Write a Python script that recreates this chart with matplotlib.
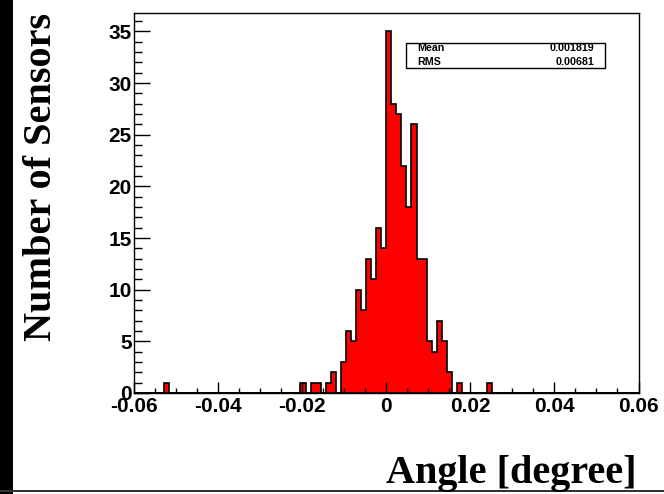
import matplotlib
matplotlib.use("Agg")
import matplotlib.pyplot as plt
import numpy as np
from matplotlib.patches import Rectangle
from matplotlib.ticker import MultipleLocator

# histogram binning: 100 bins from -0.06 to 0.06
x_min, x_max, n_bins = -0.06, 0.06, 100

# entries per bin (left to right)
counts = [
    0, 0, 0, 0, 0, 0, 1, 0, 0, 0,
    0, 0, 0, 0, 0, 0, 0, 0, 0, 0,
    0, 0, 0, 0, 0, 0, 0, 0, 0, 0,
    0, 0, 0, 1, 0, 1, 1, 0, 1, 2,
    0, 3, 6, 5, 10, 8, 13, 11, 16, 14,
    35, 28, 27, 22, 18, 26, 13, 13, 5, 4,
    7, 5, 2, 0, 1, 0, 0, 0, 0, 0,
    1, 0, 0, 0, 0, 0, 0, 0, 0, 0,
    0, 0, 0, 0, 0, 0, 0, 0, 0, 0,
    0, 0, 0, 0, 0, 0, 0, 0, 0, 0,
]

stat_names = ["Mean", "RMS"]
stat_values = ["0.001819", "0.00681"]

x_ticks = [-0.06, -0.04, -0.02, 0.0, 0.02, 0.04, 0.06]
x_ticklabels = ["-0.06", "-0.04", "-0.02", "0", "0.02", "0.04", "0.06"]
y_ticks = [0, 5, 10, 15, 20, 25, 30, 35]

edges = np.linspace(x_min, x_max, n_bins + 1)
centers = 0.5 * (edges[:-1] + edges[1:])

fig = plt.figure(figsize=(6.64, 4.94), dpi=100)
ax = fig.add_axes([0.2018, 0.2045, 0.7598, 0.7685])

ax.hist(centers, bins=edges, weights=counts, histtype="stepfilled",
        facecolor="#ff0000", edgecolor="black", linewidth=1.2)

ax.set_xlim(x_min, x_max)
ax.set_ylim(0, 1.05 * max(counts))

ax.set_xticks(x_ticks)
ax.set_xticklabels(x_ticklabels)
ax.set_yticks(y_ticks)
ax.xaxis.set_minor_locator(MultipleLocator(0.005))
ax.yaxis.set_minor_locator(MultipleLocator(1))

for lab in ax.get_xticklabels() + ax.get_yticklabels():
    lab.set_fontfamily("Liberation Sans")
    lab.set_fontweight("bold")
    lab.set_fontsize(15)

ax.tick_params(axis="x", which="major", direction="in", length=7.6, width=1, pad=3)
ax.tick_params(axis="x", which="minor", direction="in", length=3.6, width=1)
ax.tick_params(axis="y", which="major", direction="in", length=11.7, width=1, pad=1.5)
ax.tick_params(axis="y", which="minor", direction="in", length=5.6, width=1)
for sp in ax.spines.values():
    sp.set_linewidth(1)
    sp.set_color("black")

# stats box
ax.add_patch(Rectangle((0.540, 0.855), 0.394, 0.0676, transform=ax.transAxes,
                       facecolor="white", edgecolor="black", linewidth=1, zorder=5))
stat_y = [0.9086, 0.8725]
for name, val, yy in zip(stat_names, stat_values, stat_y):
    ax.text(0.5605, yy, name, transform=ax.transAxes, ha="left", va="center",
            family="Liberation Sans", weight="bold", fontsize=7.7, zorder=6)
    ax.text(0.912, yy, val, transform=ax.transAxes, ha="right", va="center",
            family="Liberation Sans", weight="bold", fontsize=7.7, zorder=6)

# axis titles
fig.text(0.063, 0.6417, "Number of Sensors", rotation=90, ha="center", va="center",
         family="Liberation Serif", weight="bold", fontsize=29)
fig.text(0.9593, 0.0223, "Angle [degree]", ha="right", va="baseline",
         family="Liberation Serif", weight="bold", fontsize=29)

# canvas frame: dark strip on the left, line at the bottom
fig.patches.append(Rectangle((0, 0), 13 / 664, 1, transform=fig.transFigure,
                             facecolor="black", edgecolor="none"))
fig.patches.append(Rectangle((0, 1.7 / 494), 1, 2 / 494, transform=fig.transFigure,
                             facecolor="#333333", edgecolor="none"))

fig.savefig("out.png", dpi=100)
